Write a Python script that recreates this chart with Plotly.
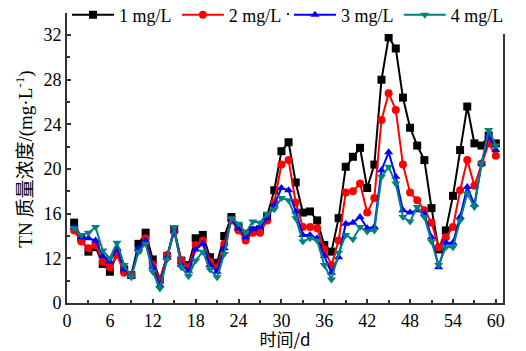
import plotly.graph_objects as go

days = list(range(1, 61))

tn_1 = [15.2, 13.8, 12.6, 13.0, 11.5, 10.8, 12.4, 11.0, 10.5, 13.3,
        14.3, 11.9, 10.1, 12.2, 14.6, 11.8, 11.4, 13.8, 14.1, 12.1,
        11.6, 14.0, 15.7, 14.8, 14.2, 14.5, 14.6, 15.8, 18.1, 21.6,
        22.4, 18.8, 16.1, 16.2, 15.4, 13.2, 12.6, 15.6, 20.2, 21.1,
        21.9, 18.3, 20.4, 28.0, 31.8, 30.8, 26.4, 23.7, 22.1, 20.8,
        16.5, 12.8, 14.5, 17.6, 21.7, 25.6, 22.3, 22.1, 23.0, 22.3]

tn_2 = [14.5, 13.5, 12.9, 13.2, 11.7, 11.2, 12.3, 10.7, 10.5, 12.7,
        13.8, 11.4, 10.0, 12.3, 14.4, 11.8, 11.2, 13.2, 13.6, 11.7,
        11.2, 13.3, 15.4, 14.5, 13.6, 14.3, 14.3, 15.4, 17.0, 20.4,
        20.8, 17.0, 14.8, 14.8, 14.7, 12.8, 11.4, 13.6, 17.9, 18.0,
        18.7, 16.1, 17.4, 24.4, 26.8, 25.3, 20.4, 17.9, 17.2, 16.3,
        15.2, 13.0, 13.9, 14.8, 18.1, 20.8, 18.5, 20.5, 22.3, 21.2]

tn_3 = [14.8, 13.9, 13.8, 13.6, 12.2, 11.7, 12.9, 11.0, 10.4, 12.9,
        13.6, 11.2, 9.6, 12.1, 14.5, 11.4, 10.9, 12.8, 13.3, 11.4,
        10.8, 12.9, 15.5, 14.7, 13.9, 14.6, 14.8, 15.6, 16.8, 18.3,
        18.1, 16.2, 14.1, 14.1, 13.8, 12.2, 10.7, 12.1, 15.1, 15.2,
        15.7, 14.7, 14.8, 19.9, 21.5, 19.3, 16.3, 16.1, 16.3, 16.0,
        13.9, 11.2, 13.4, 13.4, 15.7, 18.4, 16.8, 20.5, 23.0, 21.7]

tn_4 = [14.7, 14.1, 14.3, 14.8, 12.7, 12.0, 13.4, 11.4, 10.3, 12.6,
        13.3, 10.8, 9.3, 11.9, 14.8, 11.2, 10.4, 11.8, 12.6, 11.0,
        10.3, 12.4, 15.6, 15.1, 14.3, 15.3, 15.2, 16.0, 16.4, 17.4,
        17.2, 15.6, 13.5, 13.8, 13.6, 11.4, 10.1, 12.5, 14.1, 13.7,
        14.8, 14.4, 14.5, 19.3, 20.2, 18.7, 15.7, 15.3, 16.6, 15.7,
        13.5, 11.4, 13.0, 13.0, 15.4, 17.8, 16.6, 20.5, 23.5, 22.1]

series_names = ["1 mg/L", "2 mg/L", "3 mg/L", "4 mg/L"]
series_vals = [tn_1, tn_2, tn_3, tn_4]
colors = ["#000000", "#ff0000", "#0000ff", "#008080"]
symbols = ["square", "circle", "triangle-up", "triangle-down"]
legend_ids = ["legend", "legend2", "legend3", "legend4"]
legend_x = [0.0, 0.252, 0.509, 0.761]

y_tickvals = [8, 12, 16, 20, 24, 28, 32]
y_ticktext = ["0", "12", "16", "20", "24", "28", "32"]
x_tickvals = [0, 6, 12, 18, 24, 30, 36, 42, 48, 54, 60]

serif = "Liberation Serif, Times New Roman, Noto Sans CJK SC, serif"

fig = go.Figure()
for name, vals, c, s, lid in zip(series_names, series_vals, colors, symbols, legend_ids):
    fig.add_trace(go.Scatter(
        x=days, y=vals, name=name, mode="lines+markers",
        line=dict(color=c, width=2),
        marker=dict(symbol=s, size=8, color=c),
        legend=lid,
    ))

legend_layout = {}
for lid, lx in zip(legend_ids, legend_x):
    legend_layout[lid] = dict(
        orientation="h", x=lx, xanchor="left", y=1.0, yanchor="middle",
        bgcolor="white", font=dict(size=18, family=serif),
        itemwidth=42, borderwidth=0,
    )

# page body has an 8px margin, so the figure is 8px smaller and offsets reduced
fig.update_layout(
    width=518, height=343,
    margin=dict(l=59, r=23, t=7, b=48, autoexpand=False),
    paper_bgcolor="white", plot_bgcolor="white",
    font=dict(family=serif, size=18, color="black"),
    showlegend=True,
    **legend_layout,
)
fig.update_xaxes(
    range=[0, 61], tickmode="array", tickvals=x_tickvals,
    ticks="inside", ticklen=4, tickwidth=1.5, tickcolor="#333",
    minor=dict(dtick=3, tick0=0, ticks="inside", ticklen=3, tickcolor="#333"),
    showline=True, linecolor="#333", linewidth=2, mirror=True,
    showgrid=False, zeroline=False,
    title=dict(text="时间/d", font=dict(size=17, family="Noto Sans CJK SC, " + serif), standoff=4),
    tickfont=dict(size=18),
)
fig.update_yaxes(
    range=[8, 33.8], tickmode="array", tickvals=y_tickvals, ticktext=y_ticktext,
    ticks="inside", ticklen=4, tickwidth=1.5, tickcolor="#333",
    minor=dict(dtick=2, tick0=0, ticks="inside", ticklen=3, tickcolor="#333"),
    showline=True, linecolor="#333", linewidth=2, mirror=True,
    showgrid=False, zeroline=False,
    title=dict(text="TN 质量浓度/(mg·L<sup>-1</sup>)", font=dict(size=19, family=serif), standoff=6),
    tickfont=dict(size=18),
)

fig.write_html("out.html")
